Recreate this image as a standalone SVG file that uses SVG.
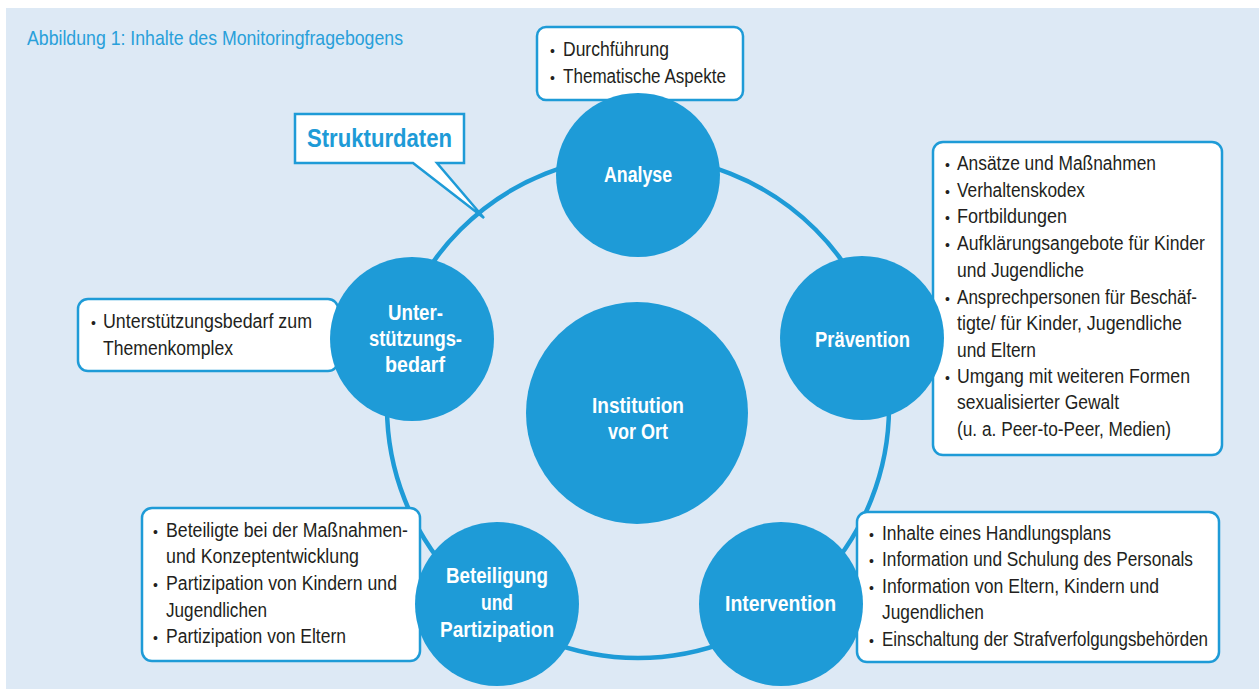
<svg xmlns="http://www.w3.org/2000/svg" width="1259" height="689" viewBox="0 0 1259 689">
<style>
.bg{fill:#dde9f5}
.box{fill:#fff;stroke:#1e9bd7;stroke-width:2.5}
.node{fill:#1e9bd7}
.ring{fill:none;stroke:#1e9bd7;stroke-width:4.5}
.t{font-family:"Liberation Sans",Arial,sans-serif;font-size:20px;fill:#231f20}
.b{font-family:"Liberation Sans",Arial,sans-serif;font-size:14px;fill:#231f20}
.lbl{font-family:"Liberation Sans",Arial,sans-serif;font-size:22px;font-weight:bold;fill:#fff;text-anchor:middle}
.title{font-family:"Liberation Sans",Arial,sans-serif;font-size:21px;fill:#29a0da}
.call{font-family:"Liberation Sans",Arial,sans-serif;font-size:25px;font-weight:bold;fill:#1e9bd7}
</style>
<rect width="1259" height="689" fill="#fff"/>
<rect class="bg" x="6" y="8" width="1253" height="681"/>
<text class="title" x="27" y="45" textLength="376" lengthAdjust="spacingAndGlyphs">Abbildung 1: Inhalte des Monitoringfragebogens</text>

<g id="strukturdaten">
<path d="M295 114 H464 V163 H437 L484 218 L413 163 H295 Z" fill="#fff" stroke="#1e9bd7" stroke-width="2.5"/>
<text class="call" x="307" y="147" textLength="145" lengthAdjust="spacingAndGlyphs">Strukturdaten</text>
</g>

<g id="connectors">
<circle class="ring" cx="638" cy="407" r="251"/>
</g>

<g id="box-analyse">
<rect class="box" x="537" y="27" width="206" height="73" rx="9"/>
<text class="b" x="550" y="56">•</text><text class="t" x="563" y="56" textLength="106" lengthAdjust="spacingAndGlyphs">Durchführung</text>
<text class="b" x="550" y="83">•</text><text class="t" x="563" y="83" textLength="163" lengthAdjust="spacingAndGlyphs">Thematische Aspekte</text>
</g>

<g id="box-praevention">
<rect class="box" x="933" y="142" width="289" height="313" rx="10"/>
<text class="b" x="945" y="170">•</text><text class="t" x="957" y="170" textLength="199" lengthAdjust="spacingAndGlyphs">Ansätze und Maßnahmen</text>
<text class="b" x="945" y="197">•</text><text class="t" x="957" y="197" textLength="128" lengthAdjust="spacingAndGlyphs">Verhaltenskodex</text>
<text class="b" x="945" y="223">•</text><text class="t" x="957" y="223" textLength="110" lengthAdjust="spacingAndGlyphs">Fortbildungen</text>
<text class="b" x="945" y="250">•</text><text class="t" x="957" y="250" textLength="248" lengthAdjust="spacingAndGlyphs">Aufklärungsangebote für Kinder</text>
<text class="t" x="957" y="277" textLength="127" lengthAdjust="spacingAndGlyphs">und Jugendliche</text>
<text class="b" x="945" y="304">•</text><text class="t" x="957" y="304" textLength="240" lengthAdjust="spacingAndGlyphs">Ansprechpersonen für Beschäf-</text>
<text class="t" x="957" y="330" textLength="225" lengthAdjust="spacingAndGlyphs">tigte/ für Kinder, Jugendliche</text>
<text class="t" x="957" y="357" textLength="79" lengthAdjust="spacingAndGlyphs">und Eltern</text>
<text class="b" x="945" y="383">•</text><text class="t" x="957" y="383" textLength="233" lengthAdjust="spacingAndGlyphs">Umgang mit weiteren Formen</text>
<text class="t" x="957" y="409" textLength="162" lengthAdjust="spacingAndGlyphs">sexualisierter Gewalt</text>
<text class="t" x="957" y="436" textLength="214" lengthAdjust="spacingAndGlyphs">(u. a. Peer-to-Peer, Medien)</text>
</g>

<g id="box-unterstuetzung">
<rect class="box" x="78" y="299" width="260" height="72" rx="10"/>
<text class="b" x="91" y="328">•</text><text class="t" x="103" y="328" textLength="209" lengthAdjust="spacingAndGlyphs">Unterstützungsbedarf zum</text>
<text class="t" x="103" y="355" textLength="130" lengthAdjust="spacingAndGlyphs">Themenkomplex</text>
</g>

<g id="box-beteiligung">
<rect class="box" x="142" y="508" width="278" height="153" rx="10"/>
<text class="b" x="153" y="537">•</text><text class="t" x="166" y="537" textLength="242" lengthAdjust="spacingAndGlyphs">Beteiligte bei der Maßnahmen-</text>
<text class="t" x="166" y="563" textLength="193" lengthAdjust="spacingAndGlyphs">und Konzeptentwicklung</text>
<text class="b" x="153" y="590">•</text><text class="t" x="166" y="590" textLength="231" lengthAdjust="spacingAndGlyphs">Partizipation von Kindern und</text>
<text class="t" x="166" y="617" textLength="101" lengthAdjust="spacingAndGlyphs">Jugendlichen</text>
<text class="b" x="153" y="643">•</text><text class="t" x="166" y="643" textLength="180" lengthAdjust="spacingAndGlyphs">Partizipation von Eltern</text>
</g>

<g id="box-intervention">
<rect class="box" x="857" y="512" width="362" height="150" rx="10"/>
<text class="b" x="869" y="540">•</text><text class="t" x="882" y="540" textLength="229" lengthAdjust="spacingAndGlyphs">Inhalte eines Handlungsplans</text>
<text class="b" x="869" y="566">•</text><text class="t" x="882" y="566" textLength="311" lengthAdjust="spacingAndGlyphs">Information und Schulung des Personals</text>
<text class="b" x="869" y="593">•</text><text class="t" x="882" y="593" textLength="277" lengthAdjust="spacingAndGlyphs">Information von Eltern, Kindern und</text>
<text class="t" x="882" y="619" textLength="102" lengthAdjust="spacingAndGlyphs">Jugendlichen</text>
<text class="b" x="869" y="646">•</text><text class="t" x="882" y="646" textLength="326" lengthAdjust="spacingAndGlyphs">Einschaltung der Strafverfolgungsbehörden</text>
</g>

<g id="node-institution">
<circle class="node" cx="637" cy="413" r="111"/>
<text class="lbl" x="638" y="413" textLength="92" lengthAdjust="spacingAndGlyphs">Institution</text>
<text class="lbl" x="638" y="439" textLength="60" lengthAdjust="spacingAndGlyphs">vor Ort</text>
</g>

<g id="node-analyse">
<circle class="node" cx="638" cy="175" r="82"/>
<text class="lbl" x="638" y="182" textLength="68" lengthAdjust="spacingAndGlyphs">Analyse</text>
</g>

<g id="node-praevention">
<circle class="node" cx="862" cy="338" r="82"/>
<text class="lbl" x="862.5" y="347" textLength="95" lengthAdjust="spacingAndGlyphs">Prävention</text>
</g>

<g id="node-intervention">
<circle class="node" cx="781" cy="604" r="82"/>
<text class="lbl" x="780.5" y="611" textLength="111" lengthAdjust="spacingAndGlyphs">Intervention</text>
</g>

<g id="node-beteiligung">
<circle class="node" cx="497" cy="604" r="82"/>
<text class="lbl" x="497" y="583" textLength="102" lengthAdjust="spacingAndGlyphs">Beteiligung</text>
<text class="lbl" x="497" y="610" textLength="32" lengthAdjust="spacingAndGlyphs">und</text>
<text class="lbl" x="497" y="637" textLength="114" lengthAdjust="spacingAndGlyphs">Partizipation</text>
</g>

<g id="node-unterstuetzung">
<circle class="node" cx="412" cy="339" r="82"/>
<text class="lbl" x="415.5" y="320" textLength="55" lengthAdjust="spacingAndGlyphs">Unter-</text>
<text class="lbl" x="415.5" y="346" textLength="93" lengthAdjust="spacingAndGlyphs">stützungs-</text>
<text class="lbl" x="415" y="372" textLength="60" lengthAdjust="spacingAndGlyphs">bedarf</text>
</g>
</svg>
